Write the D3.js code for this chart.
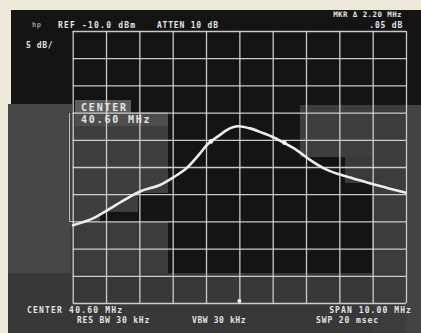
<!DOCTYPE html>
<html><head><meta charset="utf-8">
<script src="https://cdn.jsdelivr.net/npm/d3@7"></script>
<style>body{margin:0;background:#eee8da;}svg{display:block}</style>
</head><body>
<script>
// ---- data ----
const freqMHz = [35.61,36.22,36.62,37.22,37.62,38.22,38.62,39.02,39.42,39.62,40.02,40.22,40.57,40.92,41.32,41.57,41.92,42.32,42.72,43.12,43.57,44.02,44.57,45.12,45.57];
const levelDbm = [-45.7,-44.4,-43.0,-40.8,-39.5,-38.3,-36.9,-35.2,-32.5,-31.0,-29.1,-28.2,-27.5,-27.9,-28.8,-29.4,-30.5,-31.9,-33.7,-35.2,-36.3,-37.1,-38.1,-39.0,-39.7];
const markerFreqs = [39.75, 41.95];
const xTicks = [35.6,36.6,37.6,38.6,39.6,40.6,41.6,42.6,43.6,44.6,45.6];
const yTicks = [-10,-15,-20,-25,-30,-35,-40,-45,-50,-55,-60];
const topTexts = ["REF -10.0 dBm","ATTEN 10 dB","5 dB/","MKR \u0394 2.20 MHz",".05 dB"];
const bottomTexts = ["CENTER 40.60 MHz","RES BW 30 kHz","VBW 30 kHz","SPAN 10.00 MHz","SWP 20 msec"];
const boxTexts = ["CENTER","40.60 MHz"];

const W=421,H=333;
const svg=d3.select("body").append("svg").attr("width",W).attr("height",H);

// photo background panels
const bg=svg.append("g");
bg.append("rect").attr("x",0).attr("y",0).attr("width",W).attr("height",H).attr("fill","#eee8da");
bg.append("rect").attr("x",11).attr("y",10).attr("width",W-11).attr("height",H-10).attr("fill","#141414");
const grays=[
 [8,104,64,229,"#474747"],
 [68,112,100,81,"#3e3e3e"],
 [68,193,70,19,"#3e3e3e"],
 [68,212,32,10,"#3e3e3e"],
 [70,222,98,111,"#3b3b3b"],
 [8,273,413,60,"#383838"],
 [300,105,106,52,"#3e3e3e"],
 [372,105,49,228,"#3c3c3c"],
 [345,157,27,26,"#3a3a3a"],
 [406,105,15,228,"#434343"]
];
grays.forEach(g=>bg.append("rect").attr("x",g[0]).attr("y",g[1]).attr("width",g[2]).attr("height",g[3]).attr("fill",g[4]));
bg.append("rect").attr("x",75).attr("y",100).attr("width",56).attr("height",13).attr("fill","#5e5e5e");
bg.append("rect").attr("x",75).attr("y",113).attr("width",93).attr("height",13).attr("fill","#4e4e4e");
bg.append("path").attr("d","M69.5,113V221.5H73").attr("fill","none").attr("stroke","#bdbdbd").attr("stroke-width",1);

// scales
const x=d3.scaleLinear().domain([35.6,45.6]).range([72.7,406]);
const y=d3.scaleLinear().domain([-10,-60]).range([31,303]);

const gridColor="#dcdcdc";
const gx=svg.append("g").attr("transform","translate(0,303)")
  .call(d3.axisBottom(x).tickValues(xTicks).tickSize(-272).tickFormat(""));
const gy=svg.append("g").attr("transform","translate(72.7,0)")
  .call(d3.axisLeft(y).tickValues(yTicks).tickSize(-333.3).tickFormat(""));
[gx,gy].forEach(g=>{
  g.select(".domain").remove();
  g.selectAll(".tick line").attr("stroke",gridColor).attr("stroke-width",1.3).attr("opacity",0.9);
});

// trace
const line=d3.line().x((d,i)=>x(freqMHz[i])).y((d,i)=>y(levelDbm[i])).curve(d3.curveMonotoneX);
svg.append("path").datum(levelDbm).attr("d",line).attr("fill","none")
  .attr("stroke","#ececec").attr("stroke-width",2.6).attr("stroke-linecap","round");

// markers (on trace)
const interp=f=>{const i=d3.bisectLeft(freqMHz,f);const t=(f-freqMHz[i-1])/(freqMHz[i]-freqMHz[i-1]);return levelDbm[i-1]+t*(levelDbm[i]-levelDbm[i-1]);};
svg.selectAll("circle.mk").data(markerFreqs).enter().append("circle").attr("class","mk")
  .attr("cx",d=>x(d)).attr("cy",d=>y(interp(d))-0.5).attr("r",2.3).attr("fill","#f0f0f0");
svg.append("circle").attr("cx",x(40.6)).attr("cy",301).attr("r",2).attr("fill","#f0f0f0");

// text
const font="'DejaVu Sans Mono', monospace";
function txt(s,xx,yy,opts={}){
  const t=svg.append("text").text(s).attr("x",xx).attr("y",yy)
   .attr("font-family",font).attr("font-weight","bold").attr("font-size",opts.size||8)
   .attr("letter-spacing",opts.ls!=null?opts.ls:1.2).attr("fill",opts.fill||"#e4e4e4");
  if(opts.anchor) t.attr("text-anchor",opts.anchor);
  return t;
}
txt("hp",32,27,{size:7,ls:0.5,fill:"#9a9a9a"});
txt(topTexts[0],58,28);
txt(topTexts[1],157,28,{ls:0.8});
txt(topTexts[2],26,48,{ls:0.6});
txt(topTexts[3],402,17,{anchor:"end",ls:0.4,size:7.5});
txt(topTexts[4],403,28,{anchor:"end",ls:0.8});
txt(bottomTexts[0],27,313);
txt(bottomTexts[1],77,323,{ls:0.8});
txt(bottomTexts[2],192,323,{ls:0.6});
txt(bottomTexts[3],412,313,{anchor:"end",ls:1.1});
txt(bottomTexts[4],316,323,{ls:0.9});
txt(boxTexts[0],81,111,{size:10,ls:1.8});
txt(boxTexts[1],81,123,{size:10,ls:1.8});
</script>
</body></html>
